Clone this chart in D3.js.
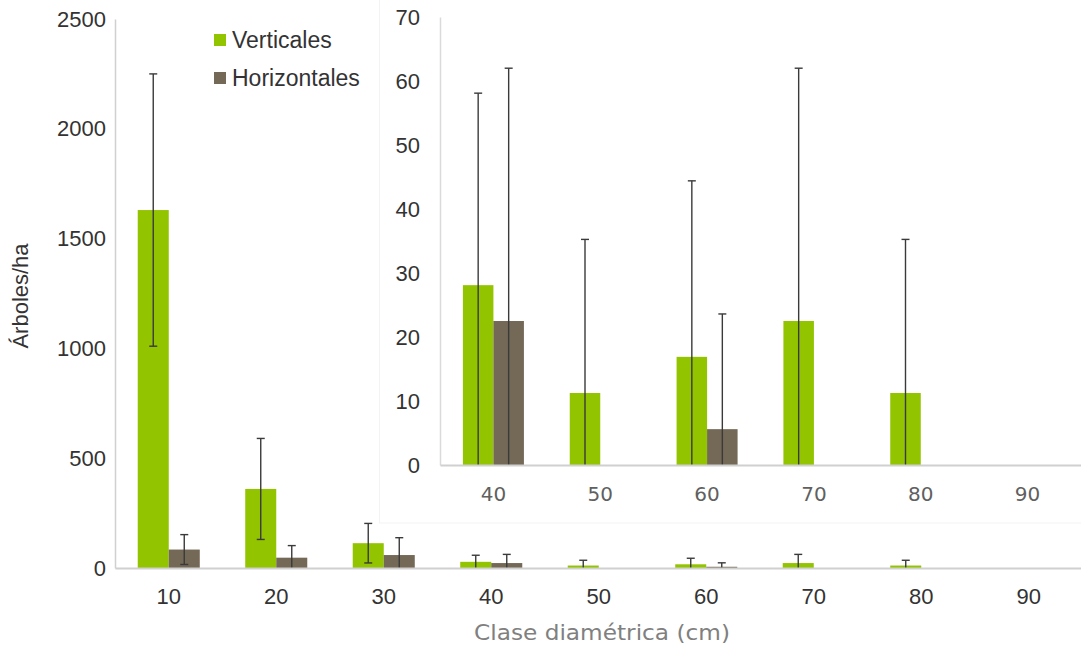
<!DOCTYPE html>
<html>
<head>
<meta charset="utf-8">
<script src="https://cdn.jsdelivr.net/npm/d3@7"></script>
<style>
  html, body { margin: 0; padding: 0; background: #fff; }
  svg { display: block; }
</style>
</head>
<body>
<svg id="chart" width="1081" height="649"></svg>
<script>
// ---------- data ----------
const categories = [10, 20, 30, 40, 50, 60, 70, 80, 90];
const seriesNames = ["Verticales", "Horizontales"];
const verticales = [1630, 360, 113, 28.1, 11.25, 16.9, 22.5, 11.25, 0];
const verticalesErr = [620, 230, 90, 30, 24, 27.5, 39.5, 24, 0];
const horizontales = [84, 47, 59, 22.5, 0, 5.6, 0, 0, 0];
const horizontalesErr = [68, 55, 79, 39.5, 0, 18, 0, 0, 0];
const mainYTicks = [0, 500, 1000, 1500, 2000, 2500];
const insetCategories = [40, 50, 60, 70, 80, 90];
const insetYTicks = [0, 10, 20, 30, 40, 50, 60, 70];
const yTitle = "Árboles/ha";
const xTitle = "Clase diamétrica (cm)";

// ---------- style ----------
const colors = { Verticales: "#93c400", Horizontales: "#746857" };
const errColor = "#3a3a3a";
const axisColor = "#d0d0d0";
const sansFont = "'Liberation Sans', Arial, sans-serif";
const geoFont = "'DejaVu Sans', sans-serif";
const fmt = d3.format("d");

const rows = categories.map((c, i) => ({
  cat: c,
  values: [
    { key: "Verticales", v: verticales[i], e: verticalesErr[i] },
    { key: "Horizontales", v: horizontales[i], e: horizontalesErr[i] }
  ]
}));

const svg = d3.select("#chart");

function drawBars(g, data, x0, x1, y) {
  const groups = g.selectAll("g.grp").data(data).join("g")
    .attr("class", "grp")
    .attr("transform", d => `translate(${x0(d.cat)},0)`);
  groups.selectAll("rect").data(d => d.values).join("rect")
    .attr("x", d => x1(d.key))
    .attr("width", x1.bandwidth())
    .attr("y", d => y(d.v))
    .attr("height", d => y(0) - y(d.v))
    .attr("fill", d => colors[d.key]);
  const eb = groups.selectAll("g.err").data(d => d.values.filter(v => v.e > 0)).join("g")
    .attr("class", "err")
    .attr("stroke", errColor)
    .attr("stroke-width", 1.4)
    .attr("fill", "none");
  const cx = d => x1(d.key) + x1.bandwidth() / 2;
  eb.append("line")
    .attr("x1", cx).attr("x2", cx)
    .attr("y1", d => y(d.v + d.e))
    .attr("y2", d => y(Math.max(0, d.v - d.e)));
  eb.append("line")
    .attr("x1", d => cx(d) - 4).attr("x2", d => cx(d) + 4)
    .attr("y1", d => y(d.v + d.e)).attr("y2", d => y(d.v + d.e));
  eb.filter(d => d.v - d.e > 0).append("line")
    .attr("x1", d => cx(d) - 4).attr("x2", d => cx(d) + 4)
    .attr("y1", d => y(d.v - d.e)).attr("y2", d => y(d.v - d.e));
}

// ---------- main chart ----------
const x0 = d3.scaleBand().domain(categories).range([115, 1082.5])
  .paddingInner(0.423).paddingOuter(0.2115);
const x1 = d3.scaleBand().domain(seriesNames).range([0, x0.bandwidth()]);
const y = d3.scaleLinear().domain([0, 2500]).range([568, 19]);

const main = svg.append("g");
drawBars(main, rows, x0, x1, y);

const yAxis = main.append("g").attr("transform", "translate(115,0)")
  .call(d3.axisLeft(y).tickValues(mainYTicks).tickFormat(fmt).tickSize(0).tickPadding(9));
yAxis.select(".domain").attr("stroke", axisColor).attr("stroke-width", 1.5);
yAxis.selectAll("text").attr("font-family", sansFont).attr("font-size", 22).attr("fill", "#333");

const xAxis = main.append("g").attr("transform", "translate(0,568)")
  .call(d3.axisBottom(x0).tickFormat(fmt).tickSize(0).tickPadding(20));
xAxis.select(".domain").attr("stroke", axisColor).attr("stroke-width", 2);
xAxis.selectAll("text").attr("font-family", sansFont).attr("font-size", 22).attr("fill", "#333");

svg.append("text")
  .attr("transform", "translate(28,296) rotate(-90)")
  .attr("text-anchor", "middle")
  .attr("font-family", sansFont).attr("font-size", 22).attr("fill", "#333")
  .text(yTitle);

svg.append("text")
  .attr("x", 602).attr("y", 640)
  .attr("text-anchor", "middle")
  .attr("font-family", geoFont).attr("font-size", 21).attr("fill", "#808080")
  .attr("textLength", 256).attr("lengthAdjust", "spacingAndGlyphs")
  .text(xTitle);

// legend
const legend = svg.append("g").attr("transform", "translate(214,34)");
const li = legend.selectAll("g").data(seriesNames).join("g")
  .attr("transform", (d, i) => `translate(0,${i * 38})`);
li.append("rect").attr("width", 12).attr("height", 12).attr("fill", d => colors[d]);
li.append("text").attr("x", 18).attr("y", 6).attr("dy", "0.36em")
  .attr("font-family", sansFont).attr("font-size", 23).attr("fill", "#333")
  .text(d => d);

// ---------- inset ----------
svg.append("rect")
  .attr("x", 379.5).attr("y", -1).attr("width", 705).attr("height", 524)
  .attr("fill", "#fff").attr("stroke", "#f3f3f3").attr("stroke-width", 1);

const ix0 = d3.scaleBand().domain(insetCategories).range([440, 1081])
  .paddingInner(0.429).paddingOuter(0.2145);
const ix1 = d3.scaleBand().domain(seriesNames).range([0, ix0.bandwidth()]);
const iy = d3.scaleLinear().domain([0, 70]).range([465, 17]);

const inset = svg.append("g");
drawBars(inset, rows.filter(r => insetCategories.includes(r.cat)), ix0, ix1, iy);

const iyAxis = inset.append("g").attr("transform", "translate(440,0)")
  .call(d3.axisLeft(iy).tickValues(insetYTicks).tickFormat(fmt).tickSize(0).tickPadding(20));
iyAxis.select(".domain").attr("stroke", "#dadada").attr("stroke-width", 1.5);
iyAxis.selectAll("text").attr("font-family", sansFont).attr("font-size", 22).attr("fill", "#333");

const ixAxis = inset.append("g").attr("transform", "translate(0,465)")
  .call(d3.axisBottom(ix0).tickFormat(fmt).tickSize(0).tickPadding(22));
ixAxis.select(".domain").attr("stroke", axisColor).attr("stroke-width", 2);
ixAxis.selectAll("text").attr("font-family", geoFont).attr("font-size", 20).attr("fill", "#606060");
</script>
</body>
</html>
